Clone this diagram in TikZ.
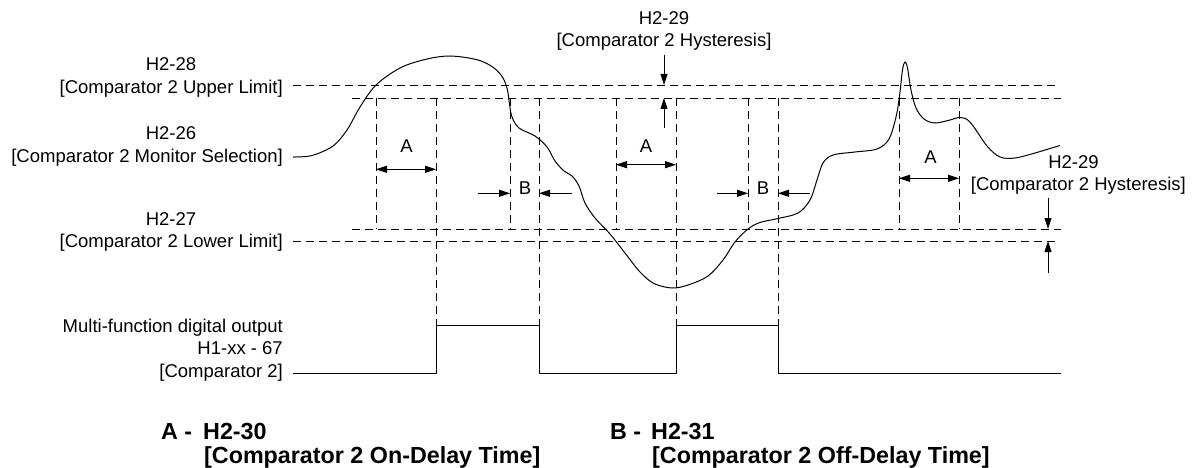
\documentclass[tikz,border=0pt]{standalone}
\usepackage{fontspec}
\setmainfont{Liberation Sans}
\usetikzlibrary{arrows.meta}
\begin{document}
\begin{tikzpicture}[x=1pt,y=-1pt,
  lbl/.style={inner sep=0pt, font=\fontsize{18.5}{22}\selectfont},
  leg/.style={inner sep=0pt, font=\fontsize{23.3}{27}\selectfont\bfseries},
  dsh/.style={line width=0.9pt, dash pattern=on 8pt off 5pt},
  sig/.style={line width=1pt},
  curve/.style={line width=1pt},
  onearrow/.style={line width=1pt, -{Triangle[length=11pt,width=7pt]}},
  twoarrow/.style={line width=1pt, {Triangle[length=11pt,width=7pt]}-{Triangle[length=11pt,width=7pt]}},
]
\useasboundingbox (0,0) rectangle (1197,468);

% ---------- horizontal guide lines ----------
\coordinate (upL) at (293,85);   \coordinate (upR) at (1057,85);
\coordinate (uhL) at (352,98);   \coordinate (uhR) at (1061,98);
\coordinate (lhL) at (352,229);  \coordinate (lhR) at (1061,229);
\coordinate (loL) at (293,241);  \coordinate (loR) at (1057,241);
\draw[dsh] (upL) -- (upR);
\draw[dsh] (uhL) -- (uhR);
\draw[dsh] (lhL) -- (lhR);
\draw[dsh] (loL) -- (loR);

% ---------- vertical guide lines ----------
\foreach \n/\x/\yb in {v1/376/229, v2/436/325, v3/510/229, v4/539/325, v5/616/229,
                       v6/676/325, v7/748/229, v8/778/325, v9/899/229, v10/959/229}{
  \coordinate (\n t) at (\x,98);
  \coordinate (\n b) at (\x,\yb);
  \draw[dsh] (\n t) -- (\n b);
}

% ---------- monitor curve ----------
\draw[curve] plot[smooth, tension=0.55] coordinates {
 (293,157) (312,155.5) (333,146) (347,130) (360,107) (376,85) (400,68) (425,59.5)
 (450,56) (478,60) (494,68) (503,78) (507.5,90) (509.5,104) (512,117) (519,128)
 (535,136) (547,147) (555,161) (564,171) (572,176) (579,186) (585,203) (595,218)
 (610,234) (625,253) (640,272) (654,283.5) (672,288) (688,285) (708,276) (723,260)
 (735,242) (748,229) (760,222.5) (778,218.5) (798,213) (810,200) (817,180) (823,163)
 (833,155) (855,152) (877,149) (889,139) (896,117) (899.5,96) (902.5,70) (905,62)
 (907.5,68) (911,90) (916,108) (924,119) (935,123) (950,120) (960,117.5) (970,122)
 (987,146) (1000,157) (1015,158) (1035,153) (1060,145.5)
};

% ---------- digital output pulse ----------
\coordinate (p0) at (293,373);
\draw[sig] (p0) -- (436,373) -- (436,325) -- (539,325) -- (539,373)
   -- (676,373) -- (676,325) -- (778,325) -- (778,373) -- (1061,373);

% ---------- A dimensions ----------
\coordinate (a1l) at (376,169.3); \coordinate (a1r) at (436,169.3);
\coordinate (a2l) at (616,164.7); \coordinate (a2r) at (676,164.7);
\coordinate (a3l) at (899,178.3); \coordinate (a3r) at (959,178.3);
\draw[twoarrow] (a1l) -- (a1r);
\draw[twoarrow] (a2l) -- (a2r);
\draw[twoarrow] (a3l) -- (a3r);
\node[lbl, anchor=base] (A1) at (406.5,152.7) {A};
\node[lbl, anchor=base] (A2) at (646,152.7) {A};
\node[lbl, anchor=base] (A3) at (930.5,164) {A};

% ---------- B dimensions ----------
\coordinate (b1a) at (478,193.3); \coordinate (b1b) at (510,193.3);
\coordinate (b1c) at (572,193.3); \coordinate (b1d) at (539,193.3);
\coordinate (b2a) at (717,193.3); \coordinate (b2b) at (748,193.3);
\coordinate (b2c) at (810,193.3); \coordinate (b2d) at (778,193.3);
\draw[onearrow] (b1a) -- (b1b);
\draw[onearrow] (b1c) -- (b1d);
\draw[onearrow] (b2a) -- (b2b);
\draw[onearrow] (b2c) -- (b2d);
\node[lbl, anchor=base] (B1) at (525,194.3) {B};
\node[lbl, anchor=base] (B2) at (763,194.3) {B};

% ---------- hysteresis arrows ----------
\coordinate (h1a) at (664,55);  \coordinate (h1b) at (664,85);
\coordinate (h1c) at (664,128); \coordinate (h1d) at (664,98);
\draw[onearrow] (h1a) -- (h1b);
\draw[onearrow] (h1c) -- (h1d);
\coordinate (h2a) at (1048,198.3); \coordinate (h2b) at (1048,229);
\coordinate (h2c) at (1048,272.7); \coordinate (h2d) at (1048,241);
\draw[onearrow] (h2a) -- (h2b);
\draw[onearrow] (h2c) -- (h2d);

\node[lbl, anchor=base] (hys1a) at (664,25) {H2-29};
\node[lbl, anchor=base] (hys1b) at (664,46.7) {[Comparator 2 Hysteresis]};
\node[lbl, anchor=base] (hys2a) at (1073.5,168.3) {H2-29};
\node[lbl, anchor=base east] (hys2b) at (1186,190) {[Comparator 2 Hysteresis]};

% ---------- left labels ----------
\node[lbl, anchor=base] (l28a) at (171,71) {H2-28};
\node[lbl, anchor=base east] (l28b) at (283,93.5) {[Comparator 2 Upper Limit]};
\node[lbl, anchor=base] (l26a) at (171,140) {H2-26};
\node[lbl, anchor=base east] (l26b) at (283,162.5) {[Comparator 2 Monitor Selection]};
\node[lbl, anchor=base] (l27a) at (171,225) {H2-27};
\node[lbl, anchor=base east] (l27b) at (283,247) {[Comparator 2 Lower Limit]};
\node[lbl, anchor=base east] (m1) at (283,332.7) {Multi-function digital output};
\node[lbl, anchor=base east] (m2) at (283,354.5) {H1-xx - 67};
\node[lbl, anchor=base east] (m3) at (283,377.5) {[Comparator 2]};

% ---------- legend ----------
\node[leg, anchor=base west] (legA) at (161,439.5) {A -};
\node[leg, anchor=base west] (legA1) at (203,439.5) {H2-30};
\node[leg, anchor=base west] (legA2) at (204,463) {[Comparator 2 On-Delay Time]};
\node[leg, anchor=base west] (legB) at (610,439.5) {B -};
\node[leg, anchor=base west] (legB1) at (651,439.5) {H2-31};
\node[leg, anchor=base west] (legB2) at (652,463) {[Comparator 2 Off-Delay Time]};
\end{tikzpicture}
\end{document}
